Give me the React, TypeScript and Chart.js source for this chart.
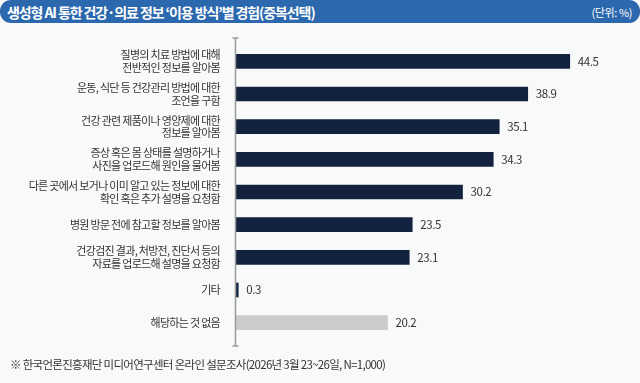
import React, { useEffect, useRef } from "react";
import { Chart, registerables } from "chart.js";

Chart.register(...registerables);

const TITLE = "생성형 AI 통한 건강·의료 정보 ‘이용 방식’별 경험(중복선택)";
const UNIT = "(단위: %)";
const NOTE = "※ 한국언론진흥재단 미디어연구센터 온라인 설문조사(2026년 3월 23~26일, N=1,000)";

const categories: (string | string[])[] = [
  ["질병의 치료 방법에 대해", "전반적인 정보를 알아봄"],
  ["운동, 식단 등 건강관리 방법에 대한", "조언을 구함"],
  ["건강 관련 제품이나 영양제에 대한", "정보를 알아봄"],
  ["증상 혹은 몸 상태를 설명하거나", "사진을 업로드해 원인을 물어봄"],
  ["다른 곳에서 보거나 이미 알고 있는 정보에 대한", "확인 혹은 추가 설명을 요청함"],
  "병원 방문 전에 참고할 정보를 알아봄",
  ["건강검진 결과, 처방전, 진단서 등의", "자료를 업로드해 설명을 요청함"],
  "기타",
  "해당하는 것 없음",
];
const values = [44.5, 38.9, 35.1, 34.3, 30.2, 23.5, 23.1, 0.3, 20.2];
const barColors = ["#13223f", "#13223f", "#13223f", "#13223f", "#13223f", "#13223f", "#13223f", "#13223f", "#cccccc"];

const FONT = "'Noto Sans CJK KR', 'Noto Sans', sans-serif";

export default function App() {
  const ref = useRef<HTMLCanvasElement>(null);
  useEffect(() => {
    document.body.style.margin = "0";
    const axisPlugin = {
      id: "axisLine",
      beforeDraw(chart: any) {
        (chart.ctx as any).letterSpacing = "-0.7px";
      },
      afterDatasetsDraw(chart: any) {
        const { ctx, chartArea } = chart;
        const x = Math.round(chartArea.left) - 0.5;
        const t = chartArea.top - 7;
        const b = chartArea.bottom + 7;
        ctx.save();
        ctx.strokeStyle = "#9a9a9a";
        ctx.lineWidth = 1.5;
        ctx.beginPath();
        ctx.moveTo(x, t);
        ctx.lineTo(x, b);
        ctx.moveTo(x - 3, t);
        ctx.lineTo(x + 3, t);
        ctx.moveTo(x - 3, b);
        ctx.lineTo(x + 3, b);
        ctx.stroke();
        // value labels
        const meta = chart.getDatasetMeta(0);
        (ctx as any).letterSpacing = "-0.4px";
        ctx.fillStyle = "#333333";
        ctx.font = `11.5px ${FONT}`;
        ctx.textBaseline = "middle";
        ctx.textAlign = "left";
        meta.data.forEach((el: any, i: number) => {
          ctx.fillText(values[i].toFixed(1), el.x + 8, el.y);
        });
        ctx.restore();
      },
    };
    const chart = new Chart(ref.current!, {
      type: "bar",
      data: {
        labels: categories,
        datasets: [
          {
            data: values,
            backgroundColor: barColors,
            borderWidth: 0,
            barThickness: 14,
          },
        ],
      },
      options: {
        indexAxis: "y",
        animation: false,
        responsive: false,
        maintainAspectRatio: false,
        layout: { padding: { top: 45, bottom: 44, left: 0, right: 29 } },
        plugins: { legend: { display: false }, tooltip: { enabled: false } },
        scales: {
          x: { display: false, min: 0, max: 50 },
          y: {
            grid: { display: false },
            border: { display: false },
            afterFit(scale: any) {
              scale.width = 236;
            },
            ticks: {
              padding: 8,
              color: "#333333",
              font: { family: FONT, size: 11, lineHeight: 1.15 },
            },
          },
        },
      },
      plugins: [axisPlugin],
    });
    return () => chart.destroy();
  }, []);

  return (
    <div style={{ position: "relative", width: 640, height: 383, background: "#f8f9f9", overflow: "hidden", fontFamily: FONT }}>
      <div
        style={{
          position: "absolute",
          left: 0,
          top: 0,
          width: 640,
          height: 23,
          background: "#2c68ad",
          borderRadius: 11,
          color: "#ffffff",
          display: "flex",
          alignItems: "center",
          justifyContent: "space-between",
          padding: "0 8px 0 7px",
          boxSizing: "border-box",
        }}
      >
        <span style={{ fontSize: 14, fontWeight: 700, letterSpacing: -1.1 }}>{TITLE}</span>
        <span style={{ fontSize: 11, letterSpacing: -0.4 }}>{UNIT}</span>
      </div>
      <canvas ref={ref} width={640} height={383} style={{ position: "absolute", left: 0, top: 0 }} />
      <div style={{ position: "absolute", left: 10, top: 356, fontSize: 11.5, color: "#333333", letterSpacing: -0.7 }}>{NOTE}</div>
    </div>
  );
}
